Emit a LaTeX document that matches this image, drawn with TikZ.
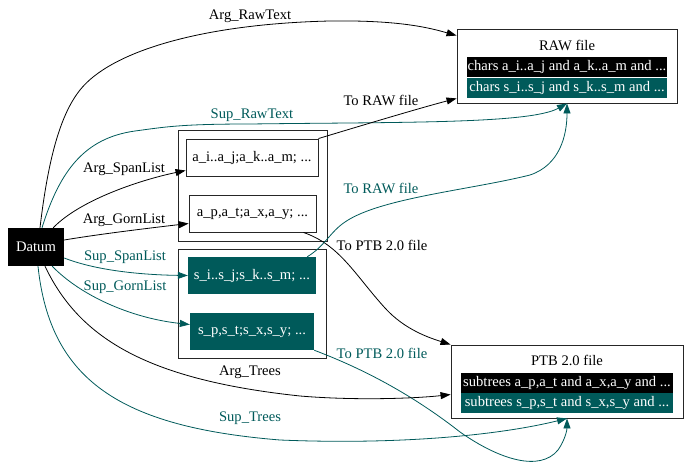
\documentclass[tikz,border=0pt]{standalone}
\usepackage{fontspec}
\setmainfont{Liberation Serif}
\usetikzlibrary{arrows.meta,calc}
\definecolor{supteal}{RGB}{0,90,90}
\begin{document}
\begin{tikzpicture}[x=1pt,y=-1pt,
  every node/.style={font=\fontsize{14.6}{16}\selectfont},
  cluster/.style={draw=black!85, line width=0.9pt},
  argbox/.style={draw=black!85, line width=0.9pt, minimum height=37pt, inner sep=0pt},
  supbox/.style={fill=supteal, text=white, minimum height=37pt, inner sep=0pt},
  filebox/.style={draw=black!85, line width=0.9pt, inner sep=0pt},
  rowa/.style={fill=black, text=white, minimum height=20pt, inner sep=0pt},
  rows/.style={fill=supteal, text=white, minimum height=20pt, inner sep=0pt},
  argedge/.style={draw=black, line width=0.8pt, -{Triangle[length=10pt,width=7pt]}},
  supedge/.style={draw=supteal, line width=0.8pt, -{Triangle[length=10pt,width=7pt]}},
  lbl/.style={text=black, inner sep=0pt},
  slbl/.style={text=supteal, inner sep=0pt}]
\useasboundingbox (0,0) rectangle (684,465);

% source
\node[fill=black, text=white, minimum width=56pt, minimum height=38pt, inner sep=0pt] (datum) at (36,247) {Datum};

% argument and support clusters
\node[cluster, minimum width=149pt, minimum height=111pt] (argc) at (252.5,185.5) {};
\node[cluster, minimum width=148pt, minimum height=109pt] (supc) at (252,303.5) {};
\node[argbox, minimum width=132pt] (ai) at (252,157.5) {a\_i..a\_j;a\_k..a\_m; ...};
\node[argbox, minimum width=127pt] (ap) at (252.5,213.5) {a\_p,a\_t;a\_x,a\_y; ...};
\node[supbox, minimum width=128pt] (si) at (252,275.5) {s\_i..s\_j;s\_k..s\_m; ...};
\node[supbox, minimum width=124pt] (sp) at (252,331.5) {s\_p,s\_t;s\_x,s\_y; ...};

% output files
\node[filebox, minimum width=220pt, minimum height=74pt] (raw) at (567,66) {};
\node[inner sep=0pt] (rawtitle) at (567,45) {RAW file};
\node[rowa, minimum width=200pt] (rawa) at (567,67) {chars a\_i..a\_j and a\_k..a\_m and ...};
\node[rows, minimum width=200pt] (raws) at (567,88) {chars s\_i..s\_j and s\_k..s\_m and ...};

\node[filebox, minimum width=232pt, minimum height=73pt] (ptb) at (567,381.5) {};
\node[inner sep=0pt] (ptbtitle) at (567,360) {PTB 2.0 file};
\node[rowa, minimum width=212pt] (ptba) at (567,383) {subtrees a\_p,a\_t and a\_x,a\_y and ...};
\node[rows, minimum width=212pt] (ptbs) at (567,403) {subtrees s\_p,s\_t and s\_x,s\_y and ...};

% Datum -> RAW file
\draw[argedge] ($(datum.north)+(4,0)$) .. controls (48,160) and (60,115) .. (80,90)
  .. controls (110,52) and (200,24) .. (330,21)
  .. controls (400,20) and (430,28) .. ($(raw.north west)+(0,7)$);
\node[lbl] (l1) at (250,16) {Arg\_RawText};
\draw[supedge] ($(datum.north)+(6,0)$) .. controls (60,170) and (85,138) .. (135,131)
  .. controls (165,127) and (180,124) .. (250,124)
  .. controls (400,122) and (530,124) .. (raw.south);
\node[slbl] (l2) at (252,115) {Sup\_RawText};

% Datum -> lists
\draw[argedge] ($(datum.north east)+(-11,0)$) .. controls (80,200) and (140,180) .. ($(ai.west)+(0,13)$);
\node[lbl] (l3) at (124,169) {Arg\_SpanList};
\draw[argedge] ($(datum.east)+(0,-7)$) .. controls (100,234) and (150,228) .. ($(ap.west)+(0,10)$);
\node[lbl] (l4) at (124,220) {Arg\_GornList};
\draw[supedge] ($(datum.east)+(0,11)$) .. controls (100,272) and (150,275) .. (si.west);
\node[slbl] (l5) at (125,257) {Sup\_SpanList};
\draw[supedge] ($(datum.south east)+(-12,0)$) .. controls (80,295) and (130,318) .. ($(sp.west)+(0,-7)$);
\node[slbl] (l6) at (125,287) {Sup\_GornList};

% lists -> files
\draw[argedge] (ai.north east) .. controls (360,126) and (420,108) .. ($(raw.south west)+(0,-5)$);
\node[lbl] (l7) at (381,100) {To RAW file};
\draw[argedge] ($(ap.south east)+(-13,0)$) .. controls (340,245) and (355,275) .. (385,308)
  .. controls (405,330) and (430,338) .. (ptb.north west);
\node[lbl] (l8) at (382,245) {To PTB 2.0 file};
\draw[supedge] ($(si.north east)+(-9,0)$) .. controls (325,246) and (330,232) .. (345,222)
  .. controls (380,198) and (470,190) .. (530,175)
  .. controls (560,165) and (567,135) .. (raw.south);
\node[slbl] (l9) at (381,188) {To RAW file};
\draw[supedge] (sp.south east) .. controls (345,362) and (400,385) .. (460,432)
  .. controls (500,460) and (540,472) .. (558,450)
  .. controls (565,440) and (567,430) .. (ptb.south);
\node[slbl] (l10) at (382,353) {To PTB 2.0 file};

% Datum -> PTB 2.0 file
\draw[argedge] ($(datum.south)+(9,0)$) .. controls (80,340) and (150,380) .. (300,396)
  .. controls (360,401) and (420,398) .. ($(ptb.west)+(0,13)$);
\node[lbl] (l11) at (250,372) {Arg\_Trees};
\draw[supedge] ($(datum.south)+(2,0)$) .. controls (50,380) and (120,427) .. (280,440)
  .. controls (400,445) and (500,435) .. (ptb.south);
\node[slbl] (l12) at (250,418) {Sup\_Trees};
\end{tikzpicture}
\end{document}
